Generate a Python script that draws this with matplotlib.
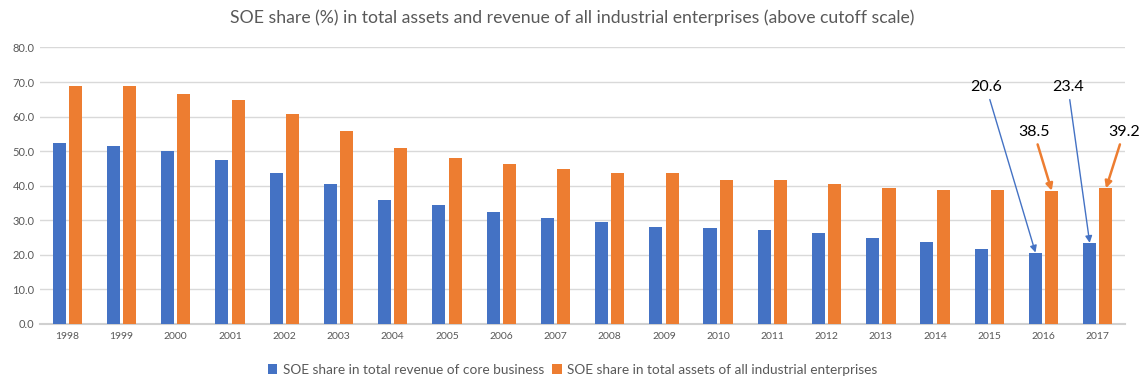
import numpy as np
import matplotlib
matplotlib.use("Agg")
import matplotlib.pyplot as plt

plt.rcParams['font.family'] = ['Lato', 'DejaVu Sans']

years = [str(y) for y in range(1998, 2018)]
revenue_share = [52.3, 51.4, 50.0, 47.4, 43.6, 40.4, 35.8, 34.4, 32.3, 30.6,
                 29.4, 28.0, 27.7, 27.1, 26.3, 24.8, 23.6, 21.6, 20.6, 23.4]
assets_share = [68.8, 68.8, 66.5, 64.8, 60.7, 55.8, 50.9, 48.0, 46.2, 44.8,
                43.6, 43.6, 41.6, 41.6, 40.4, 39.3, 38.7, 38.7, 38.5, 39.2]
yticks = [0, 10, 20, 30, 40, 50, 60, 70, 80]

BLUE = "#4472C4"
ORANGE = "#ED7D31"
GREY = "#595959"

fig = plt.figure(figsize=(11.45, 3.83), dpi=100)
ax = fig.add_axes([0.035, 0.155, 0.9475, 0.721])

x = np.arange(len(years))
w = 0.24
ax.bar(x - 0.15, revenue_share, w, color=BLUE,
       label="SOE share in total revenue of core business", zorder=3)
ax.bar(x + 0.15, assets_share, w, color=ORANGE,
       label="SOE share in total assets of all industrial enterprises", zorder=3)

ax.set_xlim(-0.5, len(years) - 0.5)
ax.set_ylim(0, 80)
ax.set_xticks(x)
ax.set_xticklabels(years, fontsize=7.5, color=GREY)
ax.set_yticks(yticks)
ax.set_yticklabels([f"{v:.1f}" for v in yticks], fontsize=8, color=GREY)
ax.tick_params(axis='both', length=0, pad=6)
ax.tick_params(axis='y', pad=4)

ax.grid(axis='y', color="#d9d9d9", linewidth=1, zorder=0)
for s in ["top", "right", "left"]:
    ax.spines[s].set_visible(False)
ax.spines["bottom"].set_color("#d0d0d0")
ax.spines["bottom"].set_linewidth(1.5)

# callouts for the last two years
i16, i17 = years.index("2016"), years.index("2017")
callouts = [
    (revenue_share[i16], i16 - 0.15, 16.94, 66.5, BLUE, 1.0),
    (revenue_share[i17], i17 - 0.15, 18.45, 66.5, BLUE, 1.0),
    (assets_share[i16], i16 + 0.15, 17.82, 53.5, ORANGE, 1.8),
    (assets_share[i17], i17 + 0.15, 19.48, 53.5, ORANGE, 1.8),
]
for val, bx, tx, ty, col, lw in callouts:
    ax.annotate(f"{val:.1f}", xy=(bx, val), xytext=(tx, ty),
                ha="center", va="bottom", fontsize=11.5, color="black",
                arrowprops=dict(arrowstyle="-|>", color=col, lw=lw,
                                shrinkA=2, shrinkB=0, mutation_scale=10),
                zorder=5)

fig.suptitle("SOE share (%) in total assets and revenue of all industrial enterprises (above cutoff scale)",
             y=0.975, fontsize=12.7, color=GREY)

fig.legend(loc="center", bbox_to_anchor=(0.5, 0.035), ncol=2, frameon=False,
           fontsize=9.8, labelcolor=GREY, handlelength=0.7, handleheight=0.7,
           handletextpad=0.4, columnspacing=0.6)

fig.savefig("out.png", dpi=100)
